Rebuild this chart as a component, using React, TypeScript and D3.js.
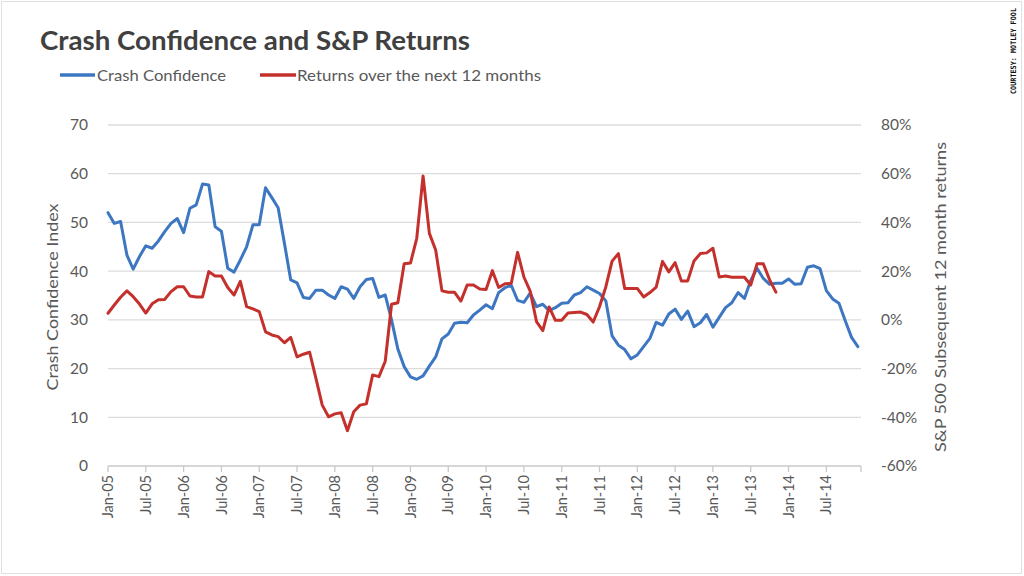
import React from "react";
import * as d3 from "d3";

const crashConfidence: number[] = [
  52, 49.8, 50.2, 43.3, 40.4, 43, 45.2, 44.7, 46.2, 48.1, 49.8, 50.8,
  47.9, 52.9, 53.6, 57.9, 57.7, 49.1, 48.2, 40.6, 39.8, 42.3, 45, 49.5,
  49.5, 57.1, 55.1, 53, 45.7, 38.2, 37.6, 34.6, 34.4, 36.1, 36.1, 35.1,
  34.4, 36.8, 36.3, 34.4, 36.8, 38.3, 38.5, 34.6, 35.1, 30, 24, 20.4,
  18.3, 17.8, 18.5, 20.5, 22.4, 26.1, 27.1, 29.3, 29.5, 29.4, 31, 32,
  33.1, 32.3, 35.6, 36.6, 37.1, 34, 33.6, 35.5, 32.7, 33.2, 31.9, 32.5,
  33.4, 33.5, 35.1, 35.6, 36.8, 36.1, 35.4, 33.9, 26.7, 24.8, 23.9, 22,
  22.8, 24.5, 26.2, 29.5, 28.9, 31.2, 32.2, 30.1, 31.8, 28.6, 29.4, 31.1,
  28.5, 30.5, 32.5, 33.5, 35.6, 34.4, 38.1, 40.6, 38.5, 37.3, 37.5, 37.5,
  38.4, 37.3, 37.4, 40.8, 41.1, 40.5, 36, 34.3, 33.4, 29.8, 26.4, 24.5,
];

const returnsNext12m: number[] = [
  2.7, 6.1, 9.3, 11.9, 9.5, 6.5, 2.8, 6.6, 8.3, 8.4, 11.6, 13.6,
  13.6, 9.8, 9.4, 9.4, 19.8, 18, 18, 13.3, 10.2, 15.8, 5.4, 4.5,
  3.4, -4.9, -6.2, -6.9, -9.4, -7.2, -15.2, -14.1, -13.3, -24, -35, -39.8,
  -38.6, -38.1, -45.5, -37.7, -35, -34.5, -22.6, -23.3, -17, 6.4, 7, 23,
  23.3, 33.5, 59.1, 35.5, 28.7, 11.9, 11.3, 11.3, 7.7, 14.3, 14.3, 12.7,
  12.5, 20.2, 13.3, 14.8, 15, 27.7, 17.6, 11.8, -0.7, -4.4, 5.3, -0.2,
  -0.2, 2.8, 3, 3.2, 2.2, -0.9, 5.4, 13.5, 24.1, 27.2, 12.9, 12.9,
  12.9, 9.4, 11.2, 13.4, 24, 19.7, 23.5, 16, 16, 24.2, 27.2, 27.5,
  29.4, 17.6, 18, 17.5, 17.5, 17.5, 14.3, 23, 23, 16.4, 11.4,
];

const xTickLabels: string[] = [
  "Jan-05", "Jul-05", "Jan-06", "Jul-06", "Jan-07", "Jul-07", "Jan-08", "Jul-08",
  "Jan-09", "Jul-09", "Jan-10", "Jul-10", "Jan-11", "Jul-11", "Jan-12", "Jul-12",
  "Jan-13", "Jul-13", "Jan-14", "Jul-14",
];
const leftTicks: number[] = [0, 10, 20, 30, 40, 50, 60, 70];
const rightTicks: number[] = [-60, -40, -20, 0, 20, 40, 60, 80];

const W = 1024;
const H = 576;
const FONT = "Lato, 'Open Sans', sans-serif";
const BLUE = "#3D77C2";
const RED = "#C4302C";
const TEXT = "#595959";

export default function App() {
  const x = d3.scaleLinear().domain([0, 119.5]).range([108, 861]);
  const yL = d3.scaleLinear().domain([0, 70]).range([466, 125]);
  const yR = d3.scaleLinear().domain([-60, 80]).range([466, 125]);

  const blueLine = d3
    .line<number>()
    .x((_, i) => x(i))
    .y((d) => yL(d));
  const redLine = d3
    .line<number>()
    .x((_, i) => x(i))
    .y((d) => yR(d));

  const xTickPos = xTickLabels.map((_, i) => i * 6);

  return (
    <svg
      width={W}
      height={H}
      style={{ position: "absolute", left: 0, top: 0, background: "#fff" }}
      fontFamily={FONT}
    >
      <rect x={1.5} y={1.5} width={1020} height={572} fill="#fff" stroke="#e0e0e0" />

      {/* title */}
      <text x={40} y={50} fontSize={26} fontWeight={700} fill="#404040" textLength={430} lengthAdjust="spacingAndGlyphs">
        Crash Confidence and S&amp;P Returns
      </text>

      {/* legend */}
      <line x1={60} x2={95} y1={75} y2={75} stroke={BLUE} strokeWidth={3.5} />
      <text x={97} y={81} fontSize={16} fill={TEXT} textLength={129} lengthAdjust="spacingAndGlyphs">
        Crash Confidence
      </text>
      <line x1={260} x2={296} y1={75} y2={75} stroke={RED} strokeWidth={3.5} />
      <text x={297} y={81} fontSize={16} fill={TEXT} textLength={244} lengthAdjust="spacingAndGlyphs">
        Returns over the next 12 months
      </text>

      {/* credit */}
      <text
        transform="translate(1016,94) rotate(-90)"
        fontSize={7.5}
        fontFamily="'DejaVu Sans Mono', monospace"
        fontWeight={700}
        fill="#111"
        textLength={86}
        lengthAdjust="spacingAndGlyphs"
      >
        COURTESY: MOTLEY FOOL
      </text>

      {/* gridlines */}
      {leftTicks.map((t) => (
        <line
          key={"g" + t}
          x1={108}
          x2={861}
          y1={yL(t)}
          y2={yL(t)}
          stroke={t === 0 ? "#c8c8c8" : "#dcdcdc"}
          strokeWidth={1.3}
        />
      ))}

      {/* x axis ticks */}
      {[...xTickPos, 119.5].map((m, i) => (
        <line key={"xt" + i} x1={x(m)} x2={x(m)} y1={466} y2={472} stroke="#c8c8c8" strokeWidth={1.3} />
      ))}
      {xTickLabels.map((lab, i) => (
        <text
          key={"xl" + lab}
          transform={`translate(${x(xTickPos[i])},475) rotate(-90)`}
          textAnchor="end"
          dy="0.35em"
          fontSize={14.5}
          fill={TEXT}
        >
          {lab}
        </text>
      ))}

      {/* left axis labels */}
      {leftTicks.map((t) => (
        <text key={"ll" + t} x={88} y={yL(t)} dy="0.35em" textAnchor="end" fontSize={15.5} fill={TEXT}>
          {t}
        </text>
      ))}
      {/* right axis labels */}
      {rightTicks.map((t) => (
        <text key={"rl" + t} x={881} y={yR(t)} dy="0.35em" textAnchor="start" fontSize={15.5} fill={TEXT}>
          {t}%
        </text>
      ))}

      {/* axis titles */}
      <text
        transform="translate(52,297) rotate(-90)"
        textAnchor="middle"
        dy="0.35em"
        fontSize={16}
        fill={TEXT}
        textLength={187}
        lengthAdjust="spacingAndGlyphs"
      >
        Crash Confidence Index
      </text>
      <text
        transform="translate(940,297) rotate(-90)"
        textAnchor="middle"
        dy="0.35em"
        fontSize={16}
        fill={TEXT}
        textLength={310}
        lengthAdjust="spacingAndGlyphs"
      >
        S&amp;P 500 Subsequent 12 month returns
      </text>

      {/* series */}
      <path d={blueLine(crashConfidence) || ""} fill="none" stroke={BLUE} strokeWidth={3} strokeLinejoin="round" strokeLinecap="round" />
      <path d={redLine(returnsNext12m) || ""} fill="none" stroke={RED} strokeWidth={3} strokeLinejoin="round" strokeLinecap="round" />
    </svg>
  );
}
